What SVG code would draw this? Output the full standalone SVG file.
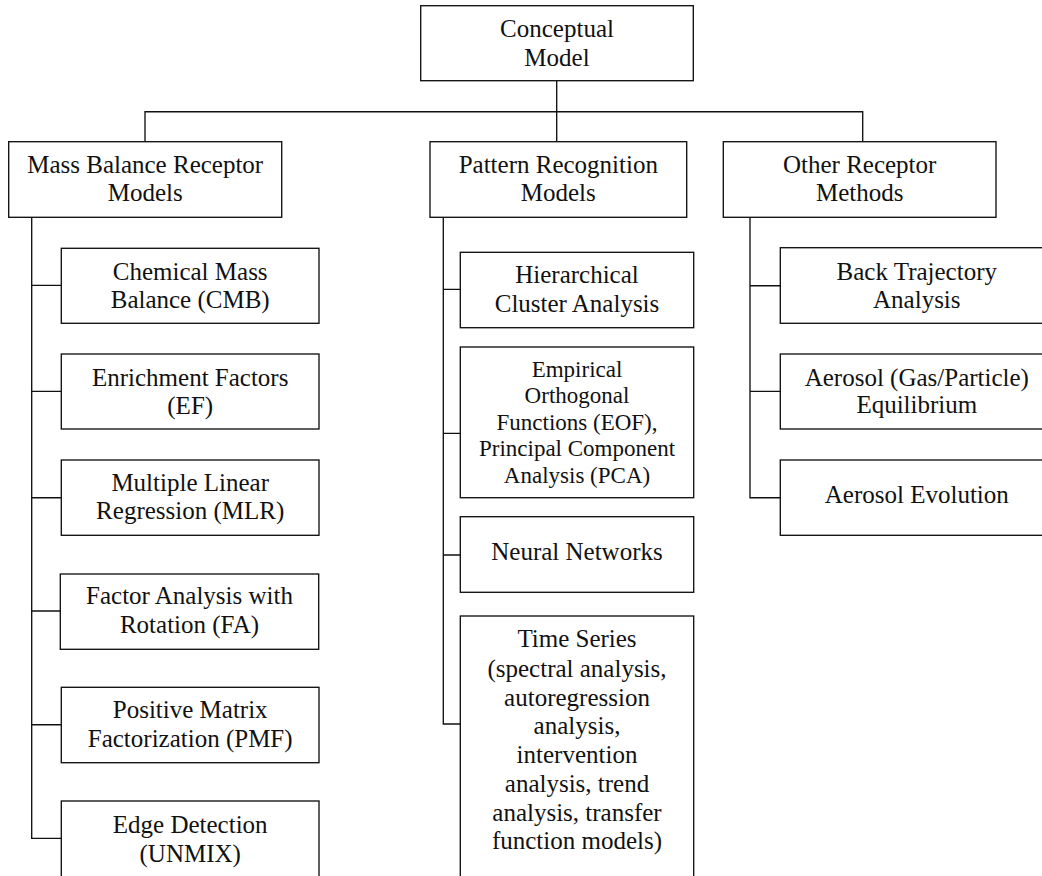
<svg xmlns="http://www.w3.org/2000/svg" width="1042" height="876" viewBox="0 0 1042 876">
<style>
rect.box{fill:#fff;stroke:#111;stroke-width:1.35}
.conn{fill:none;stroke:#111;stroke-width:1.35}
text{font-family:"Liberation Serif","Times New Roman",serif;font-size:25px;fill:#111;text-anchor:middle}
text.sm{font-size:23px}
</style>
<rect width="1042" height="876" fill="#fff"/>
<g id="connectors" class="conn">
<path d="M556.7,80.7V141.7M145,141.7V111.7H862.7V141.7"/>
<path d="M31.7,217.3V838.3H61.3M31.7,285.3H61.3M31.7,391.3H61.3M31.7,497.7H61.3M31.7,611H61.3M31.7,724.7H61.3"/>
<path d="M443.3,217.3V724H460.3M443.3,289.3H460.3M443.3,433.3H460.3M443.3,555H460.3"/>
<path d="M750,217.3V497.7H780.3M750,285.7H780.3M750,391.3H780.3"/>
</g>
<g id="conceptual"><rect class="box" x="420.7" y="5.7" width="272.6" height="75"/><text x="557" y="37.3">Conceptual</text><text x="557" y="65.7">Model</text></g>
<g id="mass-balance"><rect class="box" x="8.7" y="141.7" width="273" height="75.6"/><text x="145.2" y="173.3">Mass Balance Receptor</text><text x="145.2" y="201">Models</text></g>
<g id="pattern"><rect class="box" x="430" y="141.7" width="256.7" height="75.6"/><text x="558.3" y="173.3">Pattern Recognition</text><text x="558.3" y="201">Models</text></g>
<g id="other"><rect class="box" x="723.3" y="141.7" width="272.7" height="75.6"/><text x="859.7" y="173.3">Other Receptor</text><text x="859.7" y="201">Methods</text></g>
<g id="cmb"><rect class="box" x="61.3" y="248.3" width="257.7" height="75"/><text x="190.2" y="280">Chemical Mass</text><text x="190.2" y="308.3">Balance (CMB)</text></g>
<g id="ef"><rect class="box" x="61.3" y="354" width="257.7" height="75"/><text x="190.2" y="385.7">Enrichment Factors</text><text x="190.2" y="414">(EF)</text></g>
<g id="mlr"><rect class="box" x="61.3" y="460" width="257.7" height="75.3"/><text x="190.2" y="490.7">Multiple Linear</text><text x="190.2" y="518.7">Regression (MLR)</text></g>
<g id="fa"><rect class="box" x="60.3" y="574" width="258.4" height="75.3"/><text x="189.5" y="604.3">Factor Analysis with</text><text x="189.5" y="632.7">Rotation (FA)</text></g>
<g id="pmf"><rect class="box" x="61.3" y="687.3" width="257.7" height="75.4"/><text x="190.2" y="718.3">Positive Matrix</text><text x="190.2" y="746.7">Factorization (PMF)</text></g>
<g id="unmix"><rect class="box" x="61.3" y="801" width="257.7" height="80"/><text x="190.2" y="832.7">Edge Detection</text><text x="190.2" y="861.7">(UNMIX)</text></g>
<g id="hca"><rect class="box" x="460.3" y="252.3" width="233.4" height="75.4"/><text x="577" y="283.3">Hierarchical</text><text x="577" y="311.7">Cluster Analysis</text></g>
<g id="eof"><rect class="box" x="460.3" y="347" width="233.4" height="150.7"/><text class="sm" x="577" y="376.7">Empirical</text><text class="sm" x="577" y="403.3">Orthogonal</text><text class="sm" x="577" y="430">Functions (EOF),</text><text class="sm" x="577" y="456.3">Principal Component</text><text class="sm" x="577" y="482.7">Analysis (PCA)</text></g>
<g id="neural"><rect class="box" x="460.3" y="516.7" width="233.4" height="75.6"/><text x="577" y="560">Neural Networks</text></g>
<g id="timeseries"><rect class="box" x="460.3" y="616" width="233.4" height="265"/><text x="577" y="647.3">Time Series</text><text x="577" y="676.7">(spectral analysis,</text><text x="577" y="705.7">autoregression</text><text x="577" y="734.3">analysis,</text><text x="577" y="763.3">intervention</text><text x="577" y="792.3">analysis, trend</text><text x="577" y="821">analysis, transfer</text><text x="577" y="849.3">function models)</text></g>
<g id="backtraj"><rect class="box" x="780.3" y="247.7" width="273" height="75.6"/><text x="916.8" y="280">Back Trajectory</text><text x="916.8" y="308.3">Analysis</text></g>
<g id="equilibrium"><rect class="box" x="780.3" y="354" width="273" height="75"/><text x="916.8" y="385.7">Aerosol (Gas/Particle)</text><text x="916.8" y="413.3">Equilibrium</text></g>
<g id="evolution"><rect class="box" x="780.3" y="460" width="273" height="75.3"/><text x="916.8" y="503.3">Aerosol Evolution</text></g>
</svg>
